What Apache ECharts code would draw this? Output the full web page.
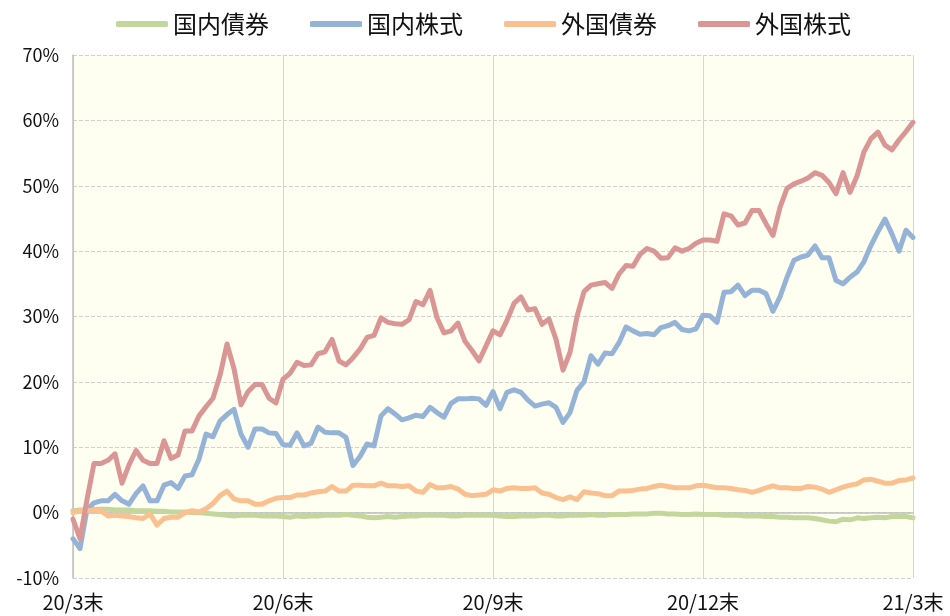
<!DOCTYPE html>
<html lang="ja">
<head>
<meta charset="UTF-8">
<title>資産別騰落率</title>
<script src="https://cdn.jsdelivr.net/npm/echarts@6/dist/echarts.min.js"></script>
<style>
  * { margin: 0; padding: 0; }
  html, body { width: 100%; height: 100%; background: #fff; }
  #chart { width: 950px; height: 616px; }
</style>
</head>
<body>
<div id="chart"></div>
<script>
// 四半期末の目盛り
var tickLabels = ['20/3末', '20/6末', '20/9末', '20/12末', '21/3末'];
var names = ['国内債券', '国内株式', '外国債券', '外国株式'];

// 騰落率 (%)、約2営業日ごと
var jpBond = [
  0.3, 0.4, 0.4, 0.5, 0.5, 0.5, 0.4, 0.4, 0.4, 0.3, 0.3, 0.3, 0.2,
  0.2, 0.1, 0.1, 0.1, 0.0, 0.0, -0.1, -0.2, -0.3, -0.4, -0.5, -0.4,
  -0.4, -0.4, -0.5, -0.5, -0.5, -0.6, -0.7, -0.5, -0.6, -0.5, -0.5, -0.4,
  -0.4, -0.4, -0.3, -0.4, -0.5, -0.7, -0.8, -0.7, -0.6, -0.7, -0.6, -0.5,
  -0.5, -0.4, -0.4, -0.4, -0.4, -0.5, -0.5, -0.4, -0.4, -0.4, -0.4, -0.4,
  -0.5, -0.6, -0.6, -0.5, -0.5, -0.5, -0.4, -0.4, -0.5, -0.5, -0.4, -0.4,
  -0.4, -0.3, -0.4, -0.4, -0.3, -0.3, -0.3, -0.2, -0.2, -0.2, -0.1, -0.1,
  -0.2, -0.2, -0.3, -0.3, -0.2, -0.3, -0.3, -0.3, -0.4, -0.4, -0.4, -0.5,
  -0.5, -0.5, -0.6, -0.6, -0.7, -0.7, -0.8, -0.8, -0.8, -0.9, -1.1, -1.3,
  -1.4, -1.0, -1.1, -0.8, -0.9, -0.8, -0.7, -0.8, -0.6, -0.6, -0.6, -0.8
];
var jpStock = [
  -4.0, -5.5, 0.5, 1.5, 1.8, 1.8, 2.8, 1.8, 1.3, 2.9, 4.1, 1.8, 1.8,
  4.2, 4.6, 3.7, 5.6, 5.8, 8.2, 12.0, 11.6, 14.0, 15.0, 15.8, 12.0,
  10.0, 12.8, 12.8, 12.2, 12.1, 10.4, 10.3, 12.2, 10.2, 10.6, 13.1, 12.3,
  12.2, 12.2, 11.5, 7.2, 8.6, 10.5, 10.2, 14.8, 15.9, 15.1, 14.2, 14.5,
  14.9, 14.7, 16.1, 15.3, 14.6, 16.7, 17.4, 17.4, 17.5, 17.4, 16.4, 18.5,
  15.9, 18.4, 18.8, 18.4, 17.2, 16.3, 16.6, 16.8, 16.1, 13.8, 15.3, 18.7,
  20.0, 24.0, 22.7, 24.4, 24.3, 26.0, 28.4, 27.8, 27.3, 27.4, 27.2, 28.3,
  28.6, 29.1, 28.0, 27.8, 28.1, 30.2, 30.1, 29.1, 33.7, 33.8, 34.8, 33.2,
  34.0, 34.0, 33.5, 30.8, 33.0, 36.0, 38.6, 39.1, 39.4, 40.8, 39.0, 39.0,
  35.5, 35.0, 36.0, 36.8, 38.4, 40.9, 43.0, 44.9, 42.6, 40.0, 43.2, 42.1
];
var fgBond = [
  0.0, 0.3, 0.3, 0.4, 0.3, -0.5, -0.4, -0.5, -0.6, -0.8, -0.9, -0.2, -1.9,
  -0.9, -0.7, -0.7, 0.0, 0.3, 0.1, 0.6, 1.4, 2.6, 3.3, 2.1, 1.8,
  1.8, 1.3, 1.3, 1.8, 2.2, 2.3, 2.3, 2.7, 2.7, 3.0, 3.2, 3.3,
  4.0, 3.3, 3.3, 4.2, 4.2, 4.1, 4.1, 4.5, 4.1, 4.1, 4.0, 4.1,
  3.3, 3.1, 4.3, 3.8, 3.8, 4.0, 3.6, 2.8, 2.6, 2.7, 2.8, 3.5,
  3.3, 3.7, 3.8, 3.7, 3.7, 3.8, 3.0, 2.8, 2.3, 2.0, 2.4, 2.0,
  3.2, 3.0, 2.9, 2.6, 2.6, 3.3, 3.3, 3.4, 3.6, 3.7, 4.0, 4.2,
  4.0, 3.8, 3.8, 3.8, 4.1, 4.2, 4.0, 3.8, 3.8, 3.7, 3.5, 3.4,
  3.1, 3.4, 3.8, 4.1, 3.8, 3.8, 3.7, 3.7, 4.0, 3.9, 3.6, 3.1,
  3.5, 3.9, 4.2, 4.4, 5.0, 5.1, 4.8, 4.5, 4.5, 4.9, 5.0, 5.3
];
var fgStock = [
  -1.0, -4.0, 2.0, 7.5, 7.5, 8.0, 9.0, 4.5, 7.3, 9.5, 8.0, 7.5, 7.5,
  11.0, 8.3, 8.8, 12.5, 12.5, 14.8, 16.2, 17.5, 21.0, 25.8, 22.0, 16.5,
  18.5, 19.6, 19.6, 17.5, 16.8, 20.4, 21.3, 23.0, 22.5, 22.6, 24.3, 24.6,
  26.5, 23.2, 22.6, 23.7, 25.0, 26.8, 27.1, 29.8, 29.1, 28.9, 28.8, 29.5,
  32.3, 31.8, 34.0, 29.8, 27.5, 27.8, 29.0, 26.2, 24.8, 23.2, 25.5, 27.8,
  27.2, 29.4, 32.0, 33.0, 31.0, 31.2, 28.8, 29.6, 26.5, 21.8, 24.5, 30.0,
  33.8, 34.8, 35.0, 35.2, 34.3, 36.5, 37.8, 37.7, 39.5, 40.4, 40.0, 38.9,
  39.0, 40.5, 40.0, 40.4, 41.2, 41.7, 41.7, 41.5, 45.7, 45.4, 44.0, 44.3,
  46.2, 46.2, 44.2, 42.4, 46.7, 49.6, 50.3, 50.7, 51.2, 52.0, 51.6, 50.5,
  48.8, 52.0, 49.0, 51.5, 55.2, 57.2, 58.2, 56.2, 55.5, 57.0, 58.3, 59.7
];

var colors = ['#c3d69b', '#95b3d7', '#fac090', '#d99694'];
var step = 30; // 1四半期あたりの点数

var cats = jpBond.map(function (v, i) { return String(i); });

var chart = echarts.init(document.getElementById('chart'));

function lineSeries(name, data, color) {
  return {
    name: name,
    type: 'line',
    data: data,
    symbol: 'none',
    smooth: false,
    color: color,
    lineStyle: { width: 5, color: color, cap: 'round', join: 'round' },
    animation: false
  };
}

var option = {
  animation: false,
  color: colors,
  legend: {
    top: 7,
    left: 111,
    icon: 'roundRect',
    itemWidth: 52,
    itemHeight: 6,
    itemGap: 41,
    textStyle: { fontSize: 24, color: '#111', fontFamily: 'Noto Sans CJK JP' },
    data: names
  },
  grid: {
    left: 73, right: 37, top: 55, bottom: 38,
    show: true,
    backgroundColor: '#fffff1',
    borderWidth: 0
  },
  xAxis: {
    type: 'category',
    data: cats,
    boundaryGap: false,
    axisLine: { show: true, lineStyle: { color: '#bfbfbf', width: 1.5 } },
    axisTick: { show: false },
    axisLabel: {
      interval: function (idx) { return idx % step === 0; },
      formatter: function (v, idx) { return tickLabels[idx / step] || ''; },
      fontSize: 20,
      color: '#111',
      margin: 14,
      fontFamily: 'Noto Sans CJK JP'
    },
    splitLine: {
      show: true,
      interval: function (idx) { return idx % step === 0; },
      lineStyle: { color: '#d4d4d4', width: 1 }
    }
  },
  yAxis: {
    type: 'value',
    min: -10,
    max: 70,
    interval: 10,
    axisLine: { show: true, lineStyle: { color: '#bfbfbf', width: 1.5 } },
    axisTick: { show: false },
    axisLabel: {
      formatter: '{value}%',
      fontSize: 18,
      color: '#111',
      margin: 14,
      fontFamily: 'Noto Sans CJK JP'
    },
    splitLine: { show: true, lineStyle: { color: '#d0d0d0', type: 'dashed', width: 1 } }
  },
  series: [
    lineSeries(names[0], jpBond, colors[0]),
    lineSeries(names[1], jpStock, colors[1]),
    lineSeries(names[2], fgBond, colors[2]),
    lineSeries(names[3], fgStock, colors[3])
  ]
};

chart.setOption(option);
window.addEventListener('resize', function () { chart.resize(); });
</script>
</body>
</html>
